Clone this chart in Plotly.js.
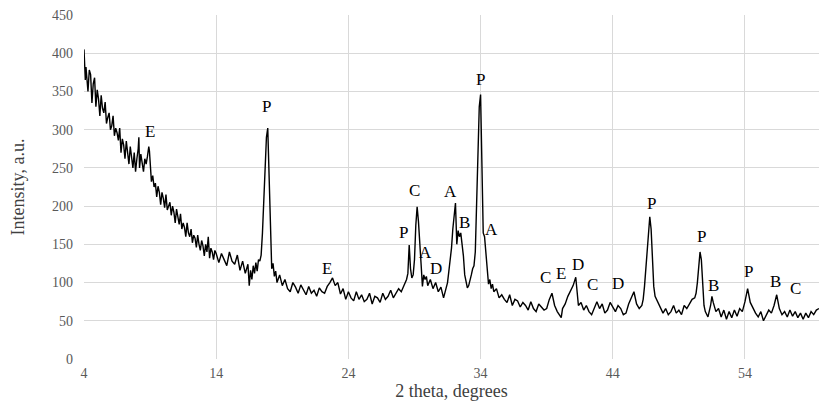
<!DOCTYPE html>
<html>
<head>
<meta charset="utf-8">
<script src="https://cdn.plot.ly/plotly-3.0.1.min.js"></script>
<style>html,body{margin:0;padding:0;background:#fff;}</style>
</head>
<body>
<div id="chart" style="width:819px;height:403px;"></div>
<script>
// 2-theta positions (degrees)
const twoTheta = [
4.0,4.05,4.1,4.15,4.2,4.3,4.4,4.5,4.6,4.7,4.8,4.9,
5.0,5.1,5.2,5.3,5.4,5.5,5.6,5.7,5.8,5.9,
6.0,6.1,6.2,6.3,6.4,6.5,6.6,6.7,6.8,6.9,
7.0,7.1,7.2,7.3,7.4,7.5,7.6,7.7,7.8,7.9,
8.0,8.1,8.15,8.2,8.3,8.4,8.5,8.6,8.7,8.8,8.9,8.95,
9.05,9.1,9.2,9.3,9.4,9.5,9.6,9.7,9.8,9.9,
10.0,10.1,10.2,10.3,10.4,10.5,10.6,10.7,10.8,10.9,
11.0,11.1,11.2,11.3,11.4,11.5,11.6,11.7,11.8,11.9,
12.0,12.1,12.2,12.3,12.4,12.5,12.6,12.7,12.8,12.9,
13.0,13.1,13.2,13.3,13.4,13.5,13.6,13.7,13.8,13.9,
14.0,14.2,14.4,14.6,14.8,15.0,15.2,15.4,15.6,15.8,
16.0,16.2,16.4,16.5,16.6,16.7,16.8,16.9,
17.0,17.1,17.2,17.3,17.4,17.5,17.6,17.7,17.8,17.9,
18.0,18.1,18.2,18.3,18.4,18.5,18.6,18.8,
19.0,19.2,19.4,19.6,19.8,20.0,20.2,20.4,20.6,20.8,
21.0,21.2,21.4,21.6,21.8,22.0,22.2,22.4,22.6,22.8,
23.0,23.2,23.4,23.6,23.8,24.0,24.2,24.4,24.6,24.8,
25.0,25.2,25.4,25.6,25.8,26.0,26.2,26.4,26.6,26.8,
27.0,27.2,27.4,27.6,27.8,28.0,28.2,28.4,28.5,28.6,28.7,28.8,28.9,
29.0,29.1,29.2,29.3,29.4,29.5,29.6,29.7,29.8,29.9,
30.0,30.2,30.4,30.6,30.8,31.0,31.2,31.4,31.5,31.6,31.7,31.8,31.9,
32.0,32.1,32.2,32.3,32.4,32.5,32.6,32.7,32.8,32.9,
33.0,33.1,33.2,33.3,33.4,33.5,33.6,33.7,33.8,33.9,
34.0,34.1,34.2,34.3,34.4,34.5,34.6,34.7,34.8,34.9,
35.0,35.2,35.4,35.6,35.8,36.0,36.2,36.4,36.6,36.8,
37.0,37.2,37.4,37.6,37.8,38.0,38.2,38.4,38.6,38.8,
39.0,39.2,39.4,39.6,39.8,40.0,40.1,40.2,40.4,40.6,40.8,
41.0,41.2,41.3,41.4,41.6,41.8,42.0,42.2,42.4,42.6,42.8,
43.0,43.2,43.4,43.6,43.8,44.0,44.2,44.4,44.6,44.8,
45.0,45.2,45.4,45.6,45.8,46.0,46.2,46.3,46.4,46.5,46.6,46.7,46.8,46.9,
47.0,47.1,47.2,47.4,47.6,47.8,48.0,48.2,48.4,48.6,48.8,
49.0,49.2,49.4,49.6,49.8,50.0,50.2,50.3,50.4,50.5,50.6,50.7,50.8,50.9,
51.0,51.2,51.4,51.5,51.6,51.8,52.0,52.2,52.4,52.6,52.8,
53.0,53.2,53.4,53.6,53.8,54.0,54.2,54.4,54.6,54.8,
55.0,55.2,55.4,55.6,55.8,56.0,56.2,56.4,56.6,56.8,
57.0,57.2,57.4,57.6,57.8,58.0,58.2,58.4,58.6,58.8,
59.0,59.2,59.4,59.6
];

// Intensity (a.u.)
const intensity = [
405,392,365,382,372,350,378,372,335,360,368,330,
352,340,318,345,328,322,336,308,316,322,
300,305,318,292,302,296,286,302,270,288,
280,262,285,270,255,278,262,250,270,245,
262,275,290,250,268,258,245,262,255,265,278,272,
238,232,240,225,230,212,226,218,202,218,
210,198,215,195,200,205,188,200,192,178,
196,182,176,190,170,178,172,160,178,165,
160,170,152,162,158,146,162,150,142,155,
148,135,150,140,160,132,145,140,130,142,
138,126,138,130,122,140,128,124,136,116,
128,112,124,96,116,104,122,112,
126,115,130,128,136,165,200,250,290,302,
240,150,118,125,108,115,100,110,
96,104,92,88,100,94,86,97,90,84,
95,86,90,82,93,88,86,95,100,106,
96,100,85,92,78,88,80,76,88,78,
84,75,78,86,72,82,80,74,86,78,
82,90,80,86,92,88,96,104,112,149,118,106,110,
130,175,199,180,145,124,95,110,104,108,
96,104,92,100,88,94,80,92,100,115,130,145,170,
188,204,150,168,160,165,150,135,110,100,
93,96,102,110,118,122,140,200,290,330,
346,260,165,160,140,110,98,104,92,98,
88,92,80,84,78,74,84,70,78,76,
68,74,70,64,75,66,62,72,68,64,
66,78,86,70,62,56,54,66,72,82,90,
96,107,90,70,74,64,70,62,58,68,75,
66,72,60,64,74,68,62,70,66,58,
60,72,80,88,72,66,70,78,95,120,150,175,186,170,
130,95,82,74,68,60,66,58,62,70,60,
64,58,70,66,72,78,80,86,100,125,140,130,95,70,
62,55,70,82,74,62,66,55,64,52,62,
54,64,56,66,62,75,92,74,66,60,
55,62,50,58,64,60,70,84,66,58,
62,55,64,56,62,54,60,52,60,54,
62,58,64,66
];

// Phase labels
const labelText = ['E','P','E','P','C','A','D','A','B','P','A','C','E','D','C','D','P','P','B','P','B','C'];
const labelX    = [9.0,17.8,22.4,28.2,29.0,29.8,30.6,31.7,32.8,34.0,34.8,38.9,40.1,41.4,42.5,44.4,46.9,50.7,51.6,54.3,56.3,57.8];
const labelY    = [298,330,119,166,221,139,119,219,179,365,169,106,112,124,97,99,204,160,96,115,101,92];

const xTicks = [4,14,24,34,44,54];

const serif = 'Liberation Serif, Times New Roman, serif';

const trace = {
  x: twoTheta, y: intensity, type: 'scatter', mode: 'lines',
  line: {color: '#000000', width: 1.4}, hoverinfo: 'skip'
};

const annotations = labelText.map((t, i) => ({
  x: labelX[i], y: labelY[i], xref: 'x', yref: 'y', text: t, showarrow: false,
  font: {family: serif, size: 17, color: '#000000'}
}));

const layout = {
  width: 819, height: 403,
  margin: {l: 84, r: 0, t: 15, b: 44},
  paper_bgcolor: '#ffffff', plot_bgcolor: '#ffffff',
  showlegend: false,
  xaxis: {
    range: [4, 59.6], tickvals: xTicks, ticktext: xTicks.map(String),
    showgrid: true, gridcolor: '#d9d9d9', gridwidth: 1, zeroline: false,
    showline: false, ticks: '', ticklabelstandoff: 4,
    tickfont: {family: serif, size: 14, color: '#595959'},
    title: {text: '2 theta, degrees', font: {family: serif, size: 18, color: '#404040'}, standoff: 2}
  },
  yaxis: {
    range: [0, 450], dtick: 50, tick0: 0,
    showgrid: true, gridcolor: '#d9d9d9', gridwidth: 1, zeroline: false,
    showline: false, ticks: '', ticklabelstandoff: 10,
    tickfont: {family: serif, size: 14, color: '#595959'},
    title: {text: 'Intensity, a.u.', font: {family: serif, size: 18, color: '#404040'}, standoff: 22}
  },
  annotations: annotations
};

Plotly.newPlot('chart', [trace], layout, {staticPlot: true, displayModeBar: false});
</script>
</body>
</html>
